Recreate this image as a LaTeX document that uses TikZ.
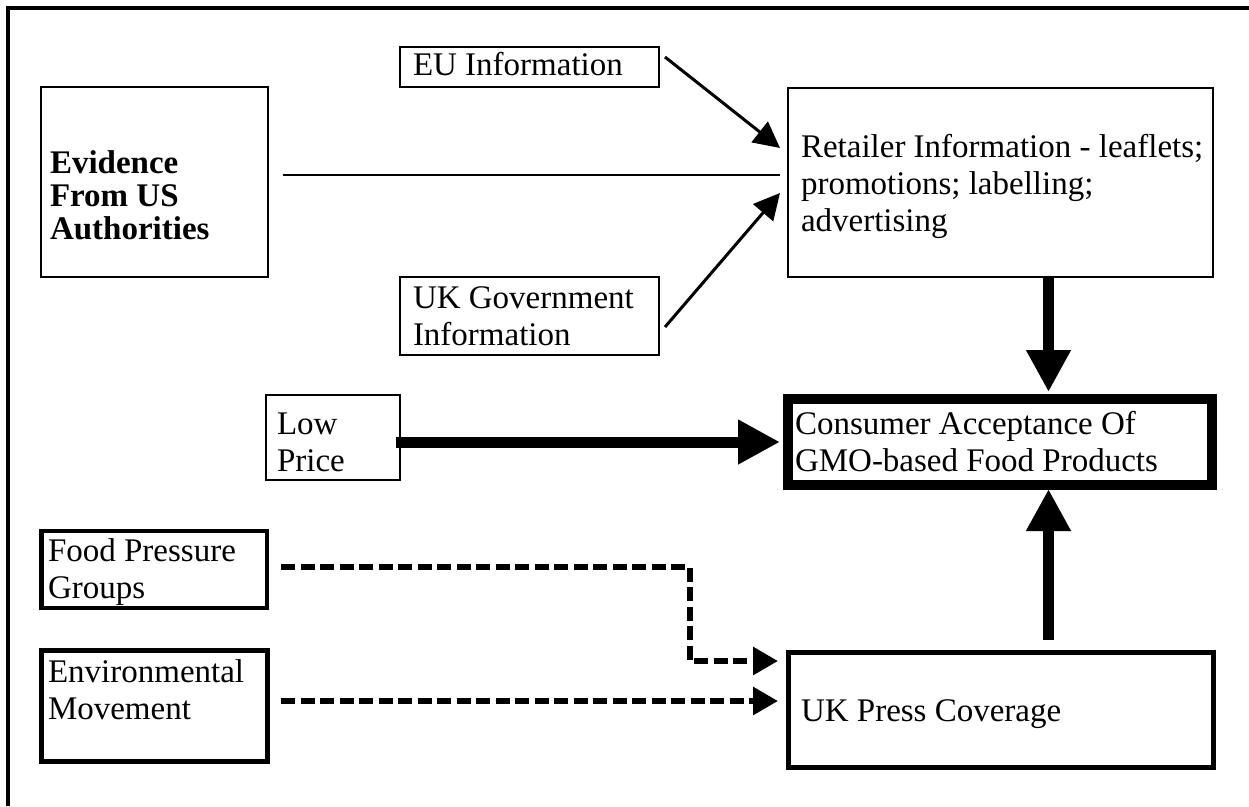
\documentclass[tikz,border=0pt]{standalone}
\usepackage{fontspec}
\setmainfont{Liberation Serif}
\usetikzlibrary{arrows.meta,calc}
\newcommand{\dgfont}{\fontsize{33}{37}\selectfont}
\newcommand{\dgbold}{\fontsize{33}{33}\selectfont\bfseries}
\begin{document}
\begin{tikzpicture}[x=1pt,y=-1pt,
  box/.style={draw, inner sep=0pt, outer sep=0pt, anchor=north west},
  txt/.style={inner sep=0pt, outer sep=0pt, anchor=north west, align=left, font=\dgfont},
  thinbox/.style={box, line width=2pt},
  thinline/.style={line width=2.5pt},
  thinarrow/.style={line width=3pt, -{Triangle[length=26pt,width=26pt]}},
  thickarrow/.style={line width=11pt, -{Triangle[length=42pt,width=42pt]}},
  dasharrow/.style={line width=6pt, dash pattern=on 14pt off 5.5pt, -{Triangle[length=25pt,width=27pt]}}]
\useasboundingbox (0,0) rectangle (1249,806);
% outer frame
\draw[line width=4pt] (8,806) -- (8,7.5) -- (1249,7.5);
% boxes
\node[thinbox, minimum width=227pt, minimum height=190pt] (ev) at (41,87) {};
\node[thinbox, minimum width=258.5pt, minimum height=40pt] (eu) at (400,47) {};
\node[thinbox, minimum width=258.5pt, minimum height=77.5pt] (ukg) at (400,277) {};
\node[thinbox, minimum width=425pt, minimum height=189pt] (ret) at (788,88) {};
\node[thinbox, minimum width=134pt, minimum height=85pt] (low) at (266,395) {};
\node[box, line width=10pt, minimum width=424pt, minimum height=86pt] (cons) at (788,399) {};
\node[box, line width=4.5pt, minimum width=225.5pt, minimum height=77pt] (food) at (41.5,531) {};
\node[box, line width=5pt, minimum width=225.5pt, minimum height=111pt] (env) at (41.5,650.5) {};
\node[box, line width=5pt, minimum width=425pt, minimum height=115pt] (press) at (788,652) {};
% texts
\node[txt, font=\dgbold] (evt) at (50,149) {\rule{0pt}{24pt}Evidence\\From US\\Authorities};
\node[txt] (eut) at (413,49.1) {\strut EU Information};
\node[txt] (ukgt) at (413,282.1) {\strut UK Government\\Information};
\node[txt] (rett) at (801,131.1) {\strut Retailer Information - leaflets;\\promotions; labelling;\\advertising};
\node[txt] (lowt) at (277,408.1) {\strut Low\\Price};
\node[txt] (const) at (795,408.1) {\strut Consumer Acceptance Of\\GMO-based Food Products};
\node[txt] (foodt) at (48,535.1) {\strut Food Pressure\\Groups};
\node[txt] (envt) at (48,656.1) {\strut Environmental\\Movement};
\node[txt] (presst) at (801,695.1) {\strut UK Press Coverage};
% connectors
\draw[thinline] ([xshift=15pt,yshift=7pt]ev.east) -- ([xshift=-8pt,yshift=7.5pt]ret.west);
\draw[thinarrow] ([xshift=6.5pt,yshift=10pt]eu.east) -- ([xshift=-8pt,yshift=34.5pt]ret.west);
\draw[thinarrow] ([xshift=6.5pt,yshift=-11.25pt]ukg.east) -- ([xshift=-8pt,yshift=-10.5pt]ret.west);
\draw[thickarrow] ($(low.east |- cons.west)+(-4,0)$) -- ($(cons.west)+(-8,0)$);
\coordinate (ax) at ($(cons.north)+(48.5,0)$);
\coordinate (bx) at ($(cons.south)+(48.5,0)$);
\draw[thickarrow] (ret.south -| ax) -- ($(ax)+(0,-7)$);
\draw[thickarrow] ($(press.north -| bx)+(0,-12)$) -- ($(bx)+(0,4)$);
\draw[dasharrow] ($(food.east)+(14,-2.5)$) -- ++(409,0) |- ($(press.west)+(-10,-48.5)$);
\draw[dasharrow] ($(env.east)+(14,-5)$) -- ($(press.west)+(-10,-8.5)$);
\end{tikzpicture}
\end{document}
